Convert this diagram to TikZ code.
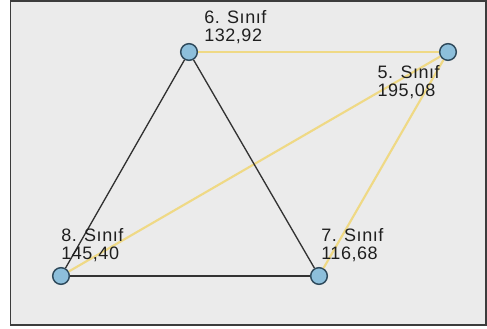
\documentclass[tikz,border=0pt]{standalone}
\usepackage{fontspec}
\setmainfont{Liberation Sans}
\newfontfamily\lblfont[LetterSpace=3]{Liberation Sans}
\usetikzlibrary{positioning}
\definecolor{panelgray}{HTML}{EBEBEB}
\definecolor{framegray}{HTML}{3C3C3C}
\definecolor{nodeblue}{HTML}{8DBFDB}
\definecolor{nodeedge}{HTML}{2F4A5C}
\definecolor{linkdark}{HTML}{333333}
\definecolor{linkyellow}{HTML}{EFD985}

\begin{document}
\begin{tikzpicture}[on grid,
    vertex/.style={circle,draw=nodeedge,fill=nodeblue,line width=1.1pt,minimum size=12.5pt,inner sep=0pt},
    lbl/.style={align=left,inner sep=0pt,font=\lblfont\fontsize{13.5}{13.5}\selectfont,text=black!88},
    strong/.style={draw=linkdark,line width=1pt},
    weak/.style={draw=linkyellow,line width=1.6pt}]
    \useasboundingbox (0,0) rectangle (365.25pt,246.75pt);
    \draw[framegray,fill=panelgray,line width=1.3pt] (7.9pt,3pt) rectangle (364.5pt,246pt);

    \node[vertex] (n8) at (45.75pt,39.75pt) {};
    \node[vertex] (n7) [right=193.5pt of n8] {};
    \node[vertex] (n6) [above right=168pt and 96pt of n8] {};
    \node[vertex] (n5) [right=194.25pt of n6] {};

    \path[weak]
      (n6) edge (n5)
      (n5) edge (n8)
           edge (n7);
    \path[strong]
      (n6) edge (n8)
           edge (n7)
      (n8) edge (n7);

    \node[lbl,anchor=north west] (t6) at ([xshift=11.25pt,yshift=31.5pt]n6.center) {6. Sınıf\\132,92};
    \node[lbl,anchor=north east] (t5) at ([xshift=-6pt,yshift=-9.75pt]n5.center) {5. Sınıf\\195,08};
    \node[lbl,anchor=north west] (t8) at ([yshift=36pt]n8.center) {8. Sınıf\\145,40};
    \node[lbl,anchor=north west] (t7) at ([xshift=1.5pt,yshift=36pt]n7.center) {7. Sınıf\\116,68};
  \end{tikzpicture}
\end{document}
